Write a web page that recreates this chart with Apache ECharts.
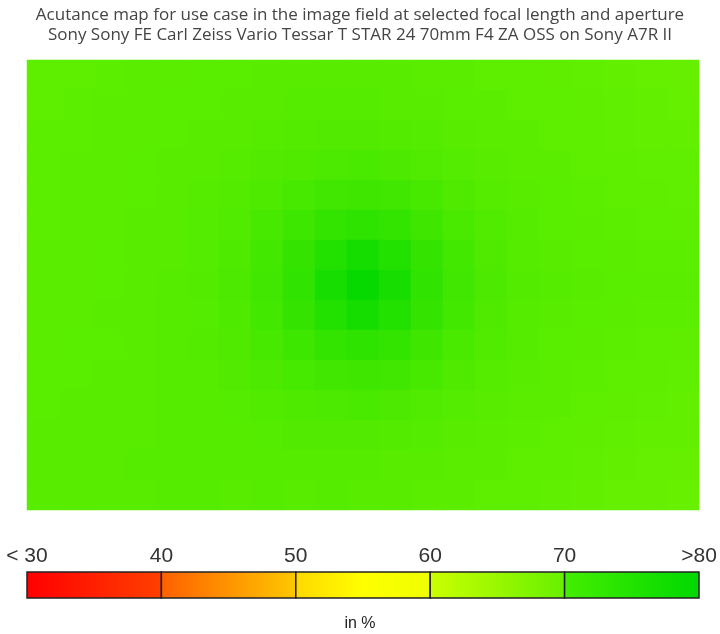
<!DOCTYPE html>
<html>
<head>
<meta charset="utf-8">
<script src="https://cdn.jsdelivr.net/npm/echarts@6/dist/echarts.min.js"></script>
<style>
html,body{margin:0;padding:0;background:#fff;}
#chart{width:720px;height:634px;}
</style>
</head>
<body>
<div id="chart"></div>
<script>
// Acutance values (%) in the image field, rows from top to bottom, columns from left to right
const fieldRows = [
  [70.9,70.9,71.0,71.1,71.2,71.3,71.3,71.4,71.4,71.5,71.5,71.4,71.2,71.1,70.9,70.8,70.7,70.5,70.3,70.1,70.0],
  [70.9,71.0,71.1,71.2,71.3,71.3,71.4,71.5,71.6,71.6,71.7,71.5,71.4,71.3,71.1,70.9,70.8,70.7,70.5,70.3,70.1],
  [71.0,71.0,71.1,71.2,71.3,71.4,71.5,71.7,71.9,72.0,72.0,71.9,71.8,71.5,71.2,71.1,70.9,70.8,70.6,70.4,70.4],
  [71.0,71.1,71.2,71.3,71.4,71.5,71.7,72.0,72.3,72.6,72.7,72.5,72.2,71.8,71.5,71.2,71.1,70.9,70.8,70.6,70.5],
  [71.0,71.1,71.2,71.3,71.5,71.6,71.9,72.4,73.0,73.6,73.8,73.6,72.9,72.3,71.7,71.4,71.3,71.0,70.9,70.7,70.6],
  [71.0,71.1,71.2,71.4,71.5,71.8,72.2,72.9,73.9,75.0,75.5,75.0,73.8,72.8,72.1,71.7,71.3,71.2,71.0,70.9,70.7],
  [71.1,71.1,71.3,71.4,71.5,71.8,72.4,73.4,74.9,76.7,77.8,76.7,74.9,73.4,72.3,71.7,71.4,71.3,71.2,71.0,71.0],
  [71.1,71.2,71.3,71.4,71.6,71.9,72.5,73.6,75.3,77.6,79.5,77.6,75.3,73.6,72.5,71.9,71.6,71.4,71.3,71.2,71.1],
  [71.2,71.2,71.4,71.5,71.6,71.8,72.4,73.4,74.9,76.7,77.8,76.7,74.9,73.4,72.3,71.7,71.4,71.3,71.2,71.0,71.0],
  [71.2,71.3,71.3,71.5,71.6,71.9,72.3,73.0,73.9,75.0,75.5,75.0,73.8,72.8,72.1,71.7,71.3,71.2,71.0,70.8,70.7],
  [71.3,71.3,71.4,71.5,71.7,71.7,72.0,72.5,73.1,73.6,73.8,73.6,72.9,72.3,71.7,71.4,71.2,71.0,70.9,70.7,70.6],
  [71.3,71.4,71.5,71.5,71.6,71.7,71.8,72.1,72.4,72.6,72.7,72.5,72.2,71.8,71.5,71.2,71.1,70.9,70.7,70.6,70.4],
  [71.4,71.4,71.4,71.5,71.6,71.6,71.7,71.8,72.0,72.0,72.0,71.9,71.8,71.5,71.2,71.0,70.9,70.7,70.5,70.4,70.3],
  [71.4,71.5,71.5,71.6,71.6,71.6,71.6,71.7,71.7,71.7,71.7,71.5,71.4,71.2,71.1,70.9,70.8,70.6,70.4,70.2,70.0],
  [71.5,71.4,71.5,71.5,71.6,71.6,71.5,71.6,71.5,71.6,71.5,71.4,71.2,71.1,70.9,70.8,70.6,70.4,70.2,70.0,69.9]
];
const scaleMin = 30;
const scaleMax = 80;
const legendSegments = [[30,40],[40,50],[50,60],[60,70],[70,80]];
const legendTicks = [30,40,50,60,70,80];
const legendTickLabels = ['< 30','40','50','60','70','>80'];
const titleLines = [
  'Acutance map for use case in the image field at selected focal length and aperture',
  'Sony Sony FE Carl Zeiss Vario Tessar T STAR 24 70mm F4 ZA OSS on Sony A7R II'
];
const unitLabel = 'in %';

// styles
const scaleColors = ['#FF0000','#FF2000','#FF5000','#FF9400','#FFD000','#FFFF00','#DDFF00','#99F800','#66F000','#33E400','#00D800'];
const segmentColors = [
  [[0,'#FF0000'],[1,'#FF4000']],
  [[0,'#FF6000'],[1,'#FFC800']],
  [[0,'#FFD800'],[0.5,'#FFFF00'],[1,'#EEFF00']],
  [[0,'#CCFF00'],[1,'#66F000']],
  [[0,'#44EE00'],[1,'#00D800']]
];

const nCols = fieldRows[0].length;
const nRows = fieldRows.length;
const xCats = Array.from({length:nCols},(_,i)=>String(i));
const yCats = Array.from({length:nRows},(_,i)=>String(i));
const heatData = [];
fieldRows.forEach((row,j)=>row.forEach((v,i)=>heatData.push([i,j,v])));

const chart = echarts.init(document.getElementById('chart'), null, {renderer:'canvas'});
chart.setOption({
  backgroundColor:'#fff',
  animation:false,
  title:{
    text: titleLines.join('\n'),
    left:'center', top:0,
    textStyle:{fontFamily:'Open Sans',fontSize:17,fontWeight:'normal',color:'#444',lineHeight:20}
  },
  grid:[
    {left:27, top:60, width:672, height:450, show:false},
    {left:27, top:572, width:672, height:26, show:false}
  ],
  xAxis:[
    {type:'category', data:xCats, gridIndex:0, show:false},
    {type:'value', gridIndex:1, min:scaleMin, max:scaleMax, interval:10, position:'top',
     axisLine:{show:false}, axisTick:{show:false}, splitLine:{show:false},
     axisLabel:{show:true, margin:5, fontFamily:'Liberation Sans', fontSize:21, color:'#333',
       formatter:(v)=>{const k=legendTicks.indexOf(v); return k>=0?legendTickLabels[k]:'';}}}
  ],
  yAxis:[
    {type:'category', data:yCats, gridIndex:0, inverse:true, show:false},
    {type:'value', gridIndex:1, min:0, max:1, show:false}
  ],
  visualMap:{
    type:'continuous', show:false, min:scaleMin, max:scaleMax, seriesIndex:0,
    inRange:{color:scaleColors}
  },
  series:[
    {type:'heatmap', xAxisIndex:0, yAxisIndex:0, data:heatData,
     itemStyle:{borderWidth:0}, emphasis:{disabled:true}},
    {type:'custom', xAxisIndex:1, yAxisIndex:1, data:legendSegments, silent:true,
     renderItem:(params, api)=>{
       const p0 = api.coord([api.value(0), 0]);
       const p1 = api.coord([api.value(1), 1]);
       const stops = segmentColors[params.dataIndex].map(s=>({offset:s[0], color:s[1]}));
       return {type:'rect',
         shape:{x:p0[0], y:p1[1], width:p1[0]-p0[0], height:p0[1]-p1[1]},
         style:{fill:new echarts.graphic.LinearGradient(0,0,1,0,stops), stroke:'#222', lineWidth:1.5}};
     }}
  ],
  graphic:[
    {type:'text', left:'center', top:616,
     style:{text:unitLabel, fontFamily:'Liberation Sans', fontSize:16, fill:'#222'}}
  ]
});
</script>
</body>
</html>
